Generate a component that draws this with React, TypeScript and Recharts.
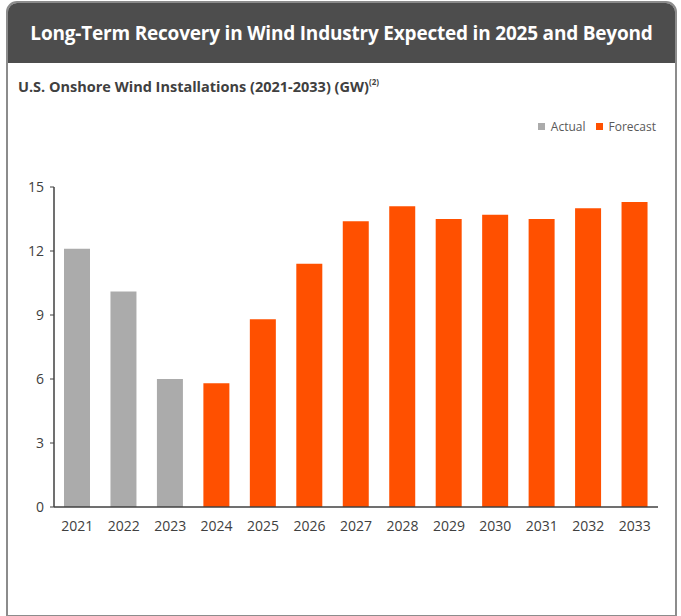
import { BarChart, Bar, XAxis, YAxis, Legend } from 'recharts';

const years = ['2021', '2022', '2023', '2024', '2025', '2026', '2027', '2028', '2029', '2030', '2031', '2032', '2033'];
const actualGW = [12.1, 10.1, 6.0, null, null, null, null, null, null, null, null, null, null];
const forecastGW = [null, null, null, 5.8, 8.8, 11.4, 13.4, 14.1, 13.5, 13.7, 13.5, 14.0, 14.3];
const yTicks = [0, 3, 6, 9, 12, 15];

const GREY = '#ABABAB';
const ORANGE = '#FF5000';
const FONT = '"Open Sans", sans-serif';

const data = years.map((year, i) => ({ year, actual: actualGW[i], forecast: forecastGW[i] }));

const LegendContent = ({ payload }: any) => (
  <div style={{ display: 'flex', justifyContent: 'flex-end', gap: 10, fontFamily: FONT, fontSize: 12, color: '#595959', height: 17, alignItems: 'center' }}>
    {(payload || []).map((entry: any) => (
      <span key={entry.value} style={{ display: 'flex', alignItems: 'center', gap: 6 }}>
        <span style={{ width: 7, height: 7, background: entry.color, display: 'inline-block' }} />
        {entry.value}
      </span>
    ))}
  </div>
);

export default function App() {
  return (
    <div style={{ position: 'absolute', left: 0, top: 0, width: 681, height: 616, background: '#fff', fontFamily: FONT }}>
      {/* frame + dark header */}
      <div
        style={{
          position: 'absolute',
          left: 6,
          top: 1,
          width: 667,
          height: 612,
          border: '2px solid #8c8c8c',
          borderRadius: '11px 11px 0 0',
          overflow: 'hidden',
        }}
      >
        <div
          style={{
            height: 60,
            background: '#4d4d4d',
            color: '#fff',
            fontWeight: 700,
            fontSize: 19,
            display: 'flex',
            alignItems: 'center',
            justifyContent: 'center',
            letterSpacing: -0.2,
          }}
        >
          Long-Term Recovery in Wind Industry Expected in 2025 and Beyond
        </div>
        <div style={{ position: 'absolute', left: 10, top: 74, fontSize: 14.5, fontWeight: 700, color: '#404040' }}>
          U.S. Onshore Wind Installations (2021-2033) (GW)<sup style={{ fontSize: 8, verticalAlign: 'top', position: 'relative', top: -1 }}>(2)</sup>
        </div>
      </div>

      <div style={{ position: 'absolute', left: 0, top: 0 }}>
        <BarChart width={681} height={616} data={data} margin={{ top: 170, right: 23, bottom: 79, left: 24 }} barSize={26}>
          <XAxis
            dataKey="year"
            axisLine={{ stroke: '#404040', strokeWidth: 1.5 }}
            tickLine={false}
            tick={{ fill: '#404040', fontSize: 14, fontFamily: FONT }}
            tickMargin={8}
            height={30}
          />
          <YAxis
            domain={[0, 15]}
            ticks={yTicks}
            axisLine={{ stroke: '#404040', strokeWidth: 1.5 }}
            tickLine={{ stroke: '#404040' }}
            tickSize={4}
            tick={{ fill: '#404040', fontSize: 14, fontFamily: FONT }}
            tickMargin={6}
            width={30}
          />
          <Legend
            verticalAlign="top"
            align="right"
            content={<LegendContent />}
            wrapperStyle={{ top: 118, right: 25, width: 'auto', left: 'auto' }}
          />
          <Bar dataKey="actual" name="Actual" stackId="gw" fill={GREY} isAnimationActive={false} />
          <Bar dataKey="forecast" name="Forecast" stackId="gw" fill={ORANGE} isAnimationActive={false} />
        </BarChart>
      </div>
    </div>
  );
}
